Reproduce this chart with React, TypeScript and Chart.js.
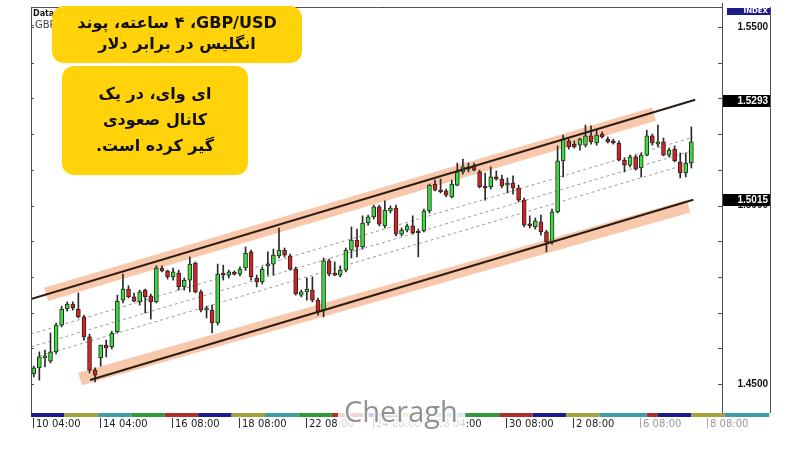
import React, { useEffect, useRef } from 'react';
import { Chart, registerables } from 'chart.js';

Chart.register(...registerables);

// ---- candle data (GBP/USD, 4h) ----
const opens = [
  1.4528, 1.4545, 1.4573, 1.4564, 1.4590, 1.4665, 1.4710, 1.4724, 1.4710, 1.4688,
  1.4632, 1.4539, 1.4573, 1.4609, 1.4604, 1.4646, 1.4735, 1.4766, 1.4744, 1.4730,
  1.4763, 1.4747, 1.4730, 1.4825, 1.4817, 1.4800, 1.4811, 1.4772, 1.4791, 1.4839,
  1.4758, 1.4707, 1.4707, 1.4671, 1.4811, 1.4805, 1.4811, 1.4808, 1.4825, 1.4870,
  1.4797, 1.4786, 1.4831, 1.4836, 1.4859, 1.4875, 1.4859, 1.4822, 1.4749, 1.4758,
  1.4763, 1.4735, 1.4707, 1.4845, 1.4808, 1.4805, 1.4819, 1.4875, 1.4903, 1.4884,
  1.4951, 1.4968, 1.4996, 1.4943, 1.4985, 1.4993, 1.4920, 1.4931, 1.4943, 1.4926,
  1.4929, 1.4985, 1.5060, 1.5041, 1.5041, 1.5024, 1.5057, 1.5094, 1.5108, 1.5111,
  1.5094, 1.5052, 1.5052, 1.5080, 1.5074, 1.5057, 1.5063, 1.5049, 1.5015, 1.4945,
  1.4940, 1.4954, 1.4926, 1.4898, 1.4982, 1.5125, 1.5181, 1.5172, 1.5169, 1.5169,
  1.5195, 1.5175, 1.5200, 1.5186, 1.5181, 1.5175, 1.5127, 1.5113, 1.5136, 1.5105,
  1.5141, 1.5195, 1.5172, 1.5178, 1.5141, 1.5158, 1.5122, 1.5091, 1.5119,
];
const highs = [
  1.4550, 1.4590, 1.4595, 1.4643, 1.4671, 1.4718, 1.4730, 1.4730, 1.4755, 1.4693,
  1.4640, 1.4545, 1.4609, 1.4623, 1.4648, 1.4749, 1.4808, 1.4775, 1.4755, 1.4763,
  1.4766, 1.4752, 1.4831, 1.4831, 1.4819, 1.4825, 1.4819, 1.4797, 1.4856, 1.4842,
  1.4763, 1.4718, 1.4721, 1.4836, 1.4833, 1.4819, 1.4817, 1.4828, 1.4884, 1.4875,
  1.4805, 1.4828, 1.4870, 1.4878, 1.4937, 1.4881, 1.4864, 1.4828, 1.4763, 1.4797,
  1.4800, 1.4741, 1.4853, 1.4850, 1.4842, 1.4831, 1.4881, 1.4940, 1.4934, 1.4971,
  1.4973, 1.5001, 1.5001, 1.5013, 1.4999, 1.5001, 1.4937, 1.4948, 1.4971, 1.4934,
  1.4990, 1.5060, 1.5071, 1.5074, 1.5046, 1.5071, 1.5119, 1.5130, 1.5119, 1.5119,
  1.5099, 1.5091, 1.5108, 1.5097, 1.5085, 1.5077, 1.5083, 1.5057, 1.5021, 1.4971,
  1.4965, 1.4973, 1.4931, 1.4990, 1.5167, 1.5197, 1.5186, 1.5181, 1.5189, 1.5225,
  1.5223, 1.5211, 1.5206, 1.5192, 1.5186, 1.5181, 1.5133, 1.5141, 1.5141, 1.5147,
  1.5211, 1.5200, 1.5225, 1.5189, 1.5161, 1.5167, 1.5147, 1.5147, 1.5220,
];
const lows = [
  1.4520, 1.4511, 1.4548, 1.4559, 1.4584, 1.4660, 1.4704, 1.4707, 1.4685, 1.4623,
  1.4531, 1.4506, 1.4550, 1.4576, 1.4598, 1.4643, 1.4727, 1.4741, 1.4730, 1.4721,
  1.4699, 1.4682, 1.4727, 1.4814, 1.4794, 1.4791, 1.4763, 1.4763, 1.4758, 1.4755,
  1.4702, 1.4685, 1.4643, 1.4665, 1.4791, 1.4797, 1.4805, 1.4803, 1.4819, 1.4791,
  1.4772, 1.4780, 1.4805, 1.4805, 1.4853, 1.4856, 1.4819, 1.4749, 1.4744, 1.4735,
  1.4730, 1.4693, 1.4688, 1.4803, 1.4803, 1.4800, 1.4814, 1.4853, 1.4856, 1.4878,
  1.4945, 1.4962, 1.4943, 1.4937, 1.4979, 1.4915, 1.4915, 1.4926, 1.4920, 1.4856,
  1.4926, 1.4979, 1.5041, 1.5035, 1.5024, 1.5021, 1.5055, 1.5088, 1.5094, 1.5097,
  1.5049, 1.5015, 1.5046, 1.5071, 1.5049, 1.5035, 1.5032, 1.5010, 1.4940, 1.4937,
  1.4934, 1.4917, 1.4870, 1.4892, 1.4979, 1.5080, 1.5158, 1.5161, 1.5155, 1.5164,
  1.5172, 1.5169, 1.5189, 1.5175, 1.5172, 1.5125, 1.5094, 1.5108, 1.5099, 1.5080,
  1.5139, 1.5169, 1.5164, 1.5139, 1.5136, 1.5122, 1.5077, 1.5080, 1.5105,
];
const closes = [
  1.4545, 1.4576, 1.4576, 1.4590, 1.4665, 1.4710, 1.4724, 1.4713, 1.4688, 1.4632,
  1.4539, 1.4525, 1.4609, 1.4601, 1.4643, 1.4732, 1.4766, 1.4744, 1.4732, 1.4758,
  1.4744, 1.4730, 1.4825, 1.4817, 1.4800, 1.4814, 1.4772, 1.4791, 1.4836, 1.4758,
  1.4707, 1.4713, 1.4671, 1.4808, 1.4805, 1.4814, 1.4808, 1.4822, 1.4867, 1.4800,
  1.4786, 1.4822, 1.4836, 1.4861, 1.4875, 1.4861, 1.4822, 1.4752, 1.4758, 1.4766,
  1.4735, 1.4702, 1.4845, 1.4808, 1.4805, 1.4819, 1.4875, 1.4903, 1.4884, 1.4951,
  1.4968, 1.4996, 1.4948, 1.4987, 1.4993, 1.4920, 1.4931, 1.4943, 1.4923, 1.4923,
  1.4985, 1.5057, 1.5043, 1.5038, 1.5029, 1.5060, 1.5094, 1.5108, 1.5102, 1.5099,
  1.5052, 1.5049, 1.5080, 1.5074, 1.5055, 1.5063, 1.5049, 1.5015, 1.4945, 1.4943,
  1.4957, 1.4926, 1.4898, 1.4982, 1.5125, 1.5186, 1.5164, 1.5164, 1.5186, 1.5195,
  1.5178, 1.5197, 1.5192, 1.5178, 1.5175, 1.5127, 1.5113, 1.5136, 1.5102, 1.5141,
  1.5195, 1.5175, 1.5178, 1.5141, 1.5155, 1.5125, 1.5091, 1.5119, 1.5178,
];

// ---- axis labels ----
const timeTickSlots = [0, 12, 25, 37, 49, 61, 72, 85, 97, 109, 121];
const timeTickLabels = ['10 04:00', '14 04:00', '16 08:00', '18 08:00', '22 08:00', '24 08:00', '28 04:00', '30 08:00', '2 08:00', '6 08:00', '8 08:00'];
const priceTickValues = [1.45, 1.46, 1.47, 1.48, 1.49, 1.50, 1.51, 1.52, 1.53, 1.54, 1.55];
const priceLabelValues = [1.55, 1.50, 1.45];
const markerPrices = [1.5293, 1.5015];

// ---- day colour strip (slot boundaries, colours) ----
const dayBounds = [-0.5, 5.5, 11.5, 17.5, 23.5, 29.5, 35.5, 41.5, 47.5, 53.5, 59.5, 65.5, 71.5, 77.5, 83.5, 89.5, 95.5, 101.5, 110, 112, 118, 124, 132];
const NAVY = '#1c1c8e', OLIVE = '#a4a43c', TEAL = '#3e9ea4', DGREEN = '#2f9a3c', DRED = '#ae302e';
const dayColors = [NAVY, OLIVE, TEAL, DGREEN, DRED, NAVY, OLIVE, TEAL, DGREEN, DRED, NAVY, OLIVE, TEAL, DGREEN, DRED, NAVY, OLIVE, TEAL, DRED, NAVY, OLIVE, TEAL];

// ---- channel lines (slot, price) ----
const upperLine = [{ x: -0.5, y: 1.4738 }, { x: 118.7, y: 1.5296 }];
const upperBand = [{ x: 2.2, y: 1.4751 }, { x: 111.3, y: 1.5256 }];
const lowerLine = [{ x: 10.1, y: 1.4511 }, { x: 118.35, y: 1.5016 }];
const lowerBand = [{ x: 8.3, y: 1.4514 }, { x: 117.5, y: 1.4998 }];
const midLine1 = [{ x: -0.5, y: 1.4640 }, { x: 118.35, y: 1.5191 }];
const midLine2 = [{ x: -0.5, y: 1.4604 }, { x: 118.35, y: 1.5154 }];
const midLine3 = [{ x: 1.0, y: 1.4578 }, { x: 118.35, y: 1.5121 }];

// ---- captions ----
const caption1 = ['GBP/USD\u200F، ۴ ساعته، پوند', 'انگلیس در برابر دلار'];
const caption2 = ['ای وای، در یک', 'کانال صعودی', 'گیر کرده است.'];

const UP = '#3ade3a';
const DOWN = '#d82020';

const overlayPlugin = {
  id: 'overlay',
  beforeDraw(chart: any) {
    const ctx = chart.ctx;
    ctx.save();
    ctx.fillStyle = '#ffffff';
    ctx.fillRect(0, 0, chart.width, chart.height);
    ctx.restore();
  },
  afterDraw(chart: any) {
    const { ctx, chartArea: ca, scales } = chart;
    const xs = scales.x, ys = scales.y;
    const L = ca.left, R = ca.right, T = ca.top, B = ca.bottom;
    const PR = R + 48;
    ctx.save();

    // top-left remnant texts
    ctx.fillStyle = '#111';
    ctx.font = 'bold 8px "DejaVu Sans"';
    ctx.textAlign = 'left';
    ctx.textBaseline = 'alphabetic';
    ctx.fillText('Data Window', L + 2, T + 9);
    ctx.font = '10px "DejaVu Sans"';
    ctx.fillStyle = '#444';
    ctx.fillText('-GBPUSD,H4', L, T + 21);

    // frame
    ctx.strokeStyle = '#505050';
    ctx.lineWidth = 1;
    ctx.beginPath();
    ctx.moveTo(L, T + 0.5); ctx.lineTo(R, T + 0.5);
    ctx.moveTo(L + 0.5, T); ctx.lineTo(L + 0.5, B);
    ctx.moveTo(R + 0.5, T - 4); ctx.lineTo(R + 0.5, B);
    ctx.moveTo(PR + 0.5, T); ctx.lineTo(PR + 0.5, B);
    ctx.stroke();

    // price ticks
    ctx.beginPath();
    priceTickValues.forEach((p) => {
      const yy = Math.round(ys.getPixelForValue(p)) + 0.5;
      ctx.moveTo(L, yy); ctx.lineTo(L + 3, yy);
      ctx.moveTo(R - 4, yy); ctx.lineTo(R, yy);
    });
    ctx.stroke();

    // INDEX tag
    ctx.fillStyle = '#1c1c8a';
    ctx.fillRect(R + 5, T + 1, 43, 7);
    ctx.fillStyle = '#ffffff';
    ctx.font = 'bold 7px "DejaVu Sans"';
    ctx.textAlign = 'right';
    ctx.textBaseline = 'middle';
    ctx.fillText('INDEX', PR - 2, T + 4.5);

    // price labels
    ctx.font = 'bold 10px "Liberation Sans"';
    ctx.fillStyle = '#111';
    priceLabelValues.forEach((p) => {
      ctx.fillText(p.toFixed(4), PR - 2, ys.getPixelForValue(p));
    });
    markerPrices.forEach((p) => {
      const yy = Math.round(ys.getPixelForValue(p));
      ctx.fillStyle = '#000';
      ctx.fillRect(R + 1, yy - 6, 47, 12);
      ctx.fillStyle = '#fff';
      ctx.fillText(p.toFixed(4), PR - 2, yy);
    });

    // day strip
    for (let i = 0; i < dayColors.length; i++) {
      const x1 = xs.getPixelForValue(dayBounds[i]);
      const x2 = Math.min(xs.getPixelForValue(dayBounds[i + 1]), PR + 4);
      ctx.fillStyle = dayColors[i];
      ctx.fillRect(x1, B, x2 - x1, 4);
    }

    // time labels
    ctx.font = '10px "DejaVu Sans"';
    ctx.textAlign = 'left';
    ctx.textBaseline = 'alphabetic';
    timeTickSlots.forEach((s, i) => {
      const px = Math.round(xs.getPixelForValue(s));
      const faded = i >= timeTickSlots.length - 2;
      ctx.strokeStyle = faded ? '#aaa' : '#333';
      ctx.beginPath();
      ctx.moveTo(px - 0.5, B + 5); ctx.lineTo(px - 0.5, B + 15);
      ctx.stroke();
      ctx.fillStyle = faded ? '#999' : '#222';
      ctx.fillText(timeTickLabels[i], px + 2, B + 14);
    });

    // watermark
    ctx.fillStyle = 'rgba(255,255,255,0.8)';
    ctx.fillRect(338, B - 8, 127, 28);
    ctx.font = '29px "Open Sans"';
    ctx.lineWidth = 3;
    ctx.strokeStyle = 'rgba(255,255,255,0.9)';
    ctx.textAlign = 'left';
    ctx.strokeText('Cheragh', 344, B + 9);
    ctx.fillStyle = 'rgba(140,140,140,0.95)';
    ctx.fillText('Cheragh', 344, B + 9);

    // yellow caption boxes
    const drawBox = (x: number, y: number, w: number, h: number, lines: string[], base: number, gap: number) => {
      ctx.fillStyle = '#ffd20a';
      ctx.beginPath();
      (ctx as any).roundRect(x, y, w, h, 12);
      ctx.fill();
      ctx.fillStyle = '#111';
      ctx.font = 'bold 16px "DejaVu Sans"';
      (ctx as any).direction = 'rtl';
      ctx.textAlign = 'center';
      ctx.textBaseline = 'alphabetic';
      lines.forEach((t, i) => ctx.fillText(t, x + w / 2, base + i * gap));
      (ctx as any).direction = 'ltr';
    };
    drawBox(52, 6, 250, 57, caption1, 28, 21);
    drawBox(62, 66, 186, 109, caption2, 99, 26);

    ctx.restore();
  },
};

export default function App() {
  const ref = useRef<HTMLCanvasElement>(null);
  useEffect(() => {
    const idx = opens.map((_, i) => i);
    const bodies = idx.map((i) => ({ x: i, y: [opens[i], closes[i]] }));
    const wicks = idx.map((i) => ({ x: i, y: [lows[i], highs[i]] }));
    const bodyColors = idx.map((i) => (closes[i] >= opens[i] ? UP : DOWN));
    const lineDs = (data: any[], color: string, width: number, order: number, dash: number[] = []) => ({
      type: 'line' as const,
      data,
      borderColor: color,
      borderWidth: width,
      borderDash: dash,
      borderCapStyle: 'butt',
      pointRadius: 0,
      tension: 0,
      fill: false,
      order,
    });
    const chart = new Chart(ref.current!, {
      type: 'bar',
      data: {
        datasets: [
          lineDs(upperLine, '#2c1c12', 2, 0) as any,
          lineDs(lowerLine, '#2c1c12', 2, 0) as any,
          {
            type: 'bar',
            data: bodies as any,
            backgroundColor: bodyColors,
            borderColor: '#262626',
            borderWidth: 1,
            borderSkipped: false,
            barThickness: 4,
            minBarLength: 2,
            grouped: false,
            order: 1,
          },
          {
            type: 'bar',
            data: wicks as any,
            backgroundColor: '#2a2a2a',
            barThickness: 1,
            grouped: false,
            order: 2,
          },
          lineDs(midLine1, '#9c9c9c', 1, 3, [3, 3]) as any,
          lineDs(midLine2, '#9c9c9c', 1, 3, [3, 3]) as any,
          lineDs(midLine3, '#9c9c9c', 1, 3, [3, 3]) as any,
          lineDs(upperBand, 'rgba(243,155,105,0.55)', 14, 4) as any,
          lineDs(lowerBand, 'rgba(243,155,105,0.55)', 13, 4) as any,
        ],
      },
      options: {
        responsive: false,
        devicePixelRatio: 1,
        animation: false,
        events: [],
        layout: { padding: { left: 31, right: 78, top: 7, bottom: 37 } },
        scales: {
          x: { type: 'linear', min: -0.5, max: 123.5, offset: false, display: false },
          y: { type: 'linear', min: 1.44188, max: 1.5556, display: false },
        },
        plugins: { legend: { display: false }, tooltip: { enabled: false } },
      },
      plugins: [overlayPlugin],
    });
    return () => chart.destroy();
  }, []);
  return (
    <div style={{ position: 'fixed', left: 0, top: 0, width: 800, height: 450, background: '#fff' }}>
      <canvas ref={ref} width={800} height={450} style={{ display: 'block', width: 800, height: 450 }} />
    </div>
  );
}
